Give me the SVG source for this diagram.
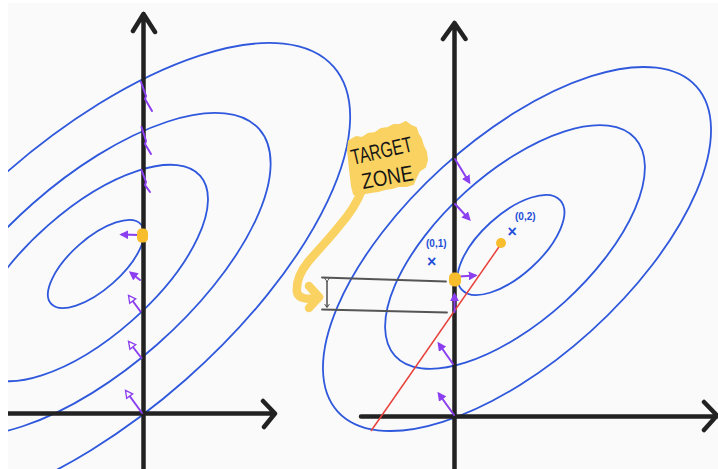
<svg xmlns="http://www.w3.org/2000/svg" width="718" height="469" viewBox="0 0 718 469">
<defs>
<style>
.ell{fill:none;stroke:#2f58dc;stroke-width:1.8}
.axis{fill:none;stroke:#222;stroke-width:4.5;stroke-linecap:round;stroke-linejoin:round}
.pa{fill:none;stroke:#8c3ff0;stroke-width:2;stroke-linecap:round}
.lbl{font-family:'Liberation Sans',Arial,sans-serif;fill:#1f4fd8}
.hand{font-family:'Liberation Sans',Arial,sans-serif;fill:#151515;font-size:22px}
.dot{fill:#f8bd2c}
.br{fill:none;stroke:#555;stroke-width:1.8;stroke-linecap:round}
</style>
<clipPath id="frame"><rect x="8" y="3" width="710" height="466"/></clipPath>
<marker id="hs" viewBox="0 0 10 10" refX="7" refY="5" markerWidth="4.5" markerHeight="4.5" orient="auto" markerUnits="strokeWidth"><path d="M0,0 L10,5 L0,10 z" fill="#8c3ff0"/></marker>
<marker id="ho" viewBox="0 0 12 12" refX="9" refY="6" markerWidth="5" markerHeight="5" orient="auto" markerUnits="strokeWidth"><path d="M1.5,1.5 L10,6 L1.5,10.5 z" fill="#fafafa" stroke="#8c3ff0" stroke-width="1.6"/></marker>
<marker id="hb" viewBox="0 0 10 10" refX="5" refY="5" markerWidth="5" markerHeight="5" orient="auto" markerUnits="strokeWidth"><path d="M0,1 L6,5 L0,9" fill="none" stroke="#333" stroke-width="1.2"/></marker>
</defs>
<rect x="0" y="0" width="718" height="469" fill="#ffffff"/>
<rect x="8" y="3" width="710" height="466" fill="#fafafa"/>

<g id="left-plot" clip-path="url(#frame)">
<ellipse class="ell" cx="96" cy="264" rx="60" ry="25.5" transform="rotate(-41.4 96 264)"/>
<ellipse class="ell" cx="90" cy="273" rx="147" ry="63.5" transform="rotate(-41.4 90 273)"/>
<ellipse class="ell" cx="95" cy="274" rx="219" ry="94" transform="rotate(-41.4 95 274)"/>
<ellipse class="ell" cx="95" cy="277" rx="318" ry="137" transform="rotate(-41.4 95 277)"/>
<path class="axis" d="M143.5,469 L143.5,14 M133,31 L143.5,14 L155,32"/>
<path class="axis" d="M8,413.5 L274,413.5 M263,401 L275,413.5 L264,427"/>
</g>

<g id="right-plot">
<ellipse class="ell" cx="511" cy="245" rx="66.5" ry="30.4" transform="rotate(-42.2 511 245)"/>
<ellipse class="ell" cx="515" cy="247" rx="162" ry="74" transform="rotate(-42.2 515 247)"/>
<ellipse class="ell" cx="517" cy="249" rx="242" ry="110.5" transform="rotate(-42.2 517 249)"/>
<path class="axis" d="M454.5,469 L454.5,23 M443,39 L454.5,23 L465.5,39"/>
<path class="axis" d="M361,416.5 L717,416.5 M704,402 L717,415.5 L704,430"/>
<line x1="371" y1="431" x2="501" y2="244" stroke="#e8403a" stroke-width="1.5"/>
</g>

<g id="bracket">
<line class="br" x1="322" y1="277.5" x2="446" y2="281.5"/>
<line class="br" x1="322" y1="309.5" x2="447" y2="312.5"/>
<line x1="327" y1="281" x2="327" y2="307" stroke="#333" stroke-width="1.3" marker-start="url(#hb)" marker-end="url(#hb)"/>
</g>

<g id="connectors">
<path class="pa" d="M141,82 L146,96 L145,99 L152,111"/>
<path class="pa" d="M141.5,127 L146,141 L145,144 L151,154"/>
<path class="pa" d="M141.5,170 L146,182 L145,185 L150,192"/>
<line class="pa" x1="139" y1="235" x2="122" y2="234.5" marker-end="url(#hs)"/>
<line class="pa" x1="140" y1="280" x2="131" y2="273" marker-end="url(#hs)"/>
<line class="pa" x1="140.5" y1="311.5" x2="129" y2="296" marker-end="url(#ho)"/>
<line class="pa" x1="141.5" y1="358" x2="129" y2="342" marker-end="url(#ho)"/>
<line class="pa" x1="142" y1="413" x2="126" y2="391" marker-end="url(#ho)"/>
<line class="pa" x1="455" y1="159" x2="469" y2="182" marker-end="url(#hs)"/>
<line class="pa" x1="455" y1="204" x2="469" y2="219" marker-end="url(#hs)"/>
<line class="pa" x1="459" y1="276.5" x2="475" y2="275.5" marker-end="url(#hs)"/>
<line class="pa" x1="454.5" y1="312" x2="454.5" y2="295" stroke-width="3.5" marker-end="url(#hs)"/>
<line class="pa" x1="453" y1="364" x2="439" y2="344" marker-end="url(#hs)"/>
<line class="pa" x1="454" y1="415" x2="439" y2="394" marker-end="url(#hs)"/>
</g>

<g id="points">
<rect class="dot" x="137" y="228.5" width="11" height="14" rx="4.5"/>
<rect class="dot" x="449" y="272.5" width="12" height="14" rx="5"/>
<circle class="dot" cx="501" cy="243" r="5"/>
</g>

<g id="labels">
<text class="lbl" x="427" y="267" font-size="16" font-weight="bold">×</text>
<text class="lbl" x="426" y="247" font-size="10" font-weight="bold">(0,1)</text>
<text class="lbl" x="507.5" y="237" font-size="16" font-weight="bold">×</text>
<text class="lbl" x="515" y="220" font-size="10" font-weight="bold">(0,2)</text>
</g>

<g id="target-zone">
<path d="M349,141 L356,137 L362,138 L368,134 L375,133 L381,129 L388,128 L394,125 L400,125 L406,122 L411,126 L416,128 L418,134 L421,139 L423,146 L426,152 L427,160 L425,167 L419,171 L416,177 L413,184 L406,186 L398,186 L392,188 L385,189 L378,191 L371,192 L365,193 L359,196 L354,194 L352,186 L351,178 L350,169 L349,160 L348,150 Z" fill="#f9d261" stroke="#f9d261" stroke-width="2" stroke-linejoin="round"/>
<path d="M362,190 C356,205 348,216 340,225 C330,238 318,250 308,262 C300,272 296,282 297,292 C298,298 306,300 318,298" fill="none" stroke="#f9d261" stroke-width="8.5" stroke-linecap="round" stroke-linejoin="round"/>
<path d="M309,286 L319,297 L309,308" fill="none" stroke="#f9d261" stroke-width="8.5" stroke-linecap="round" stroke-linejoin="round"/>
<text class="hand" x="353" y="165" textLength="62" lengthAdjust="spacingAndGlyphs" transform="rotate(-13 353 165)">TARGET</text>
<text class="hand" x="363" y="189" textLength="52" lengthAdjust="spacingAndGlyphs" transform="rotate(-10 363 189)">ZONE</text>
</g>
</svg>
